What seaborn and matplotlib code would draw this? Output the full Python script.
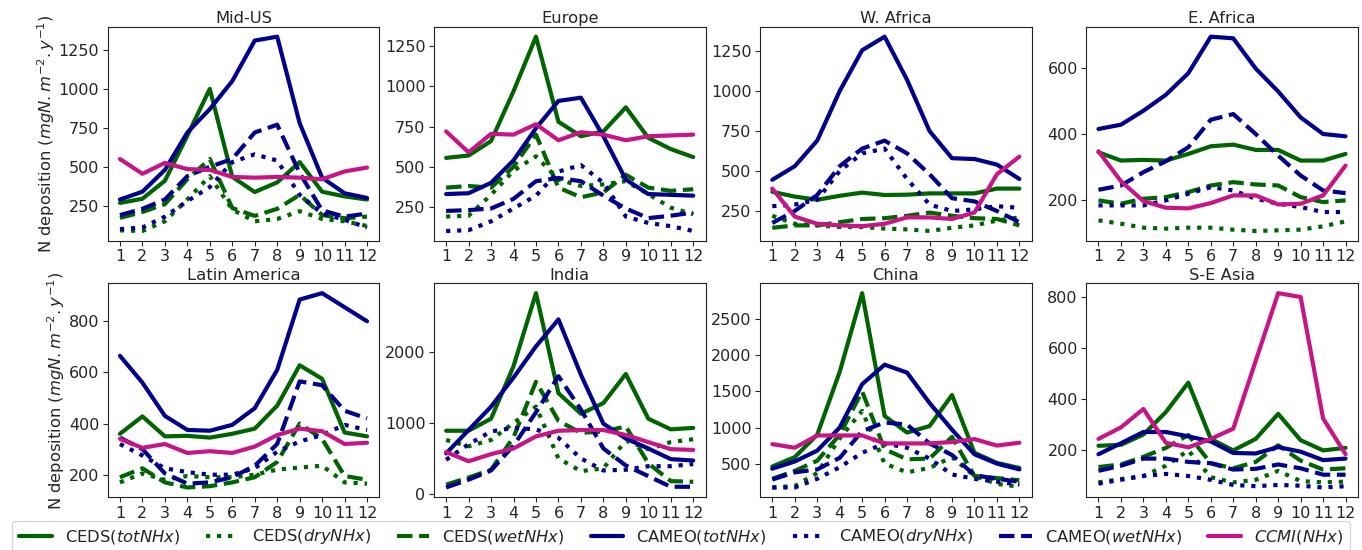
import numpy as np
import pandas as pd
import matplotlib
matplotlib.use("Agg")
import matplotlib.pyplot as plt
from matplotlib.ticker import MultipleLocator
import seaborn as sns

months = list(range(1, 13))

regions = ["Mid-US", "Europe", "W. Africa", "E. Africa",
           "Latin America", "India", "China", "S-E Asia"]

# Monthly NHx deposition (mgN m-2 y-1) per region and source
mid_us = {
    "ceds_tot": [268, 295, 410, 700, 1000, 435, 338, 400, 530, 340, 310, 290],
    "ceds_dry": [92, 88, 150, 290, 440, 225, 150, 165, 215, 165, 150, 120],
    "ceds_wet": [172, 210, 260, 420, 550, 235, 185, 230, 320, 190, 170, 180],
    "cameo_tot": [290, 340, 480, 720, 870, 1050, 1310, 1335, 780, 430, 330, 300],
    "cameo_dry": [100, 110, 180, 280, 370, 530, 580, 540, 320, 200, 160, 110],
    "cameo_wet": [190, 230, 290, 440, 500, 550, 720, 770, 460, 220, 180, 200],
    "ccmi": [550, 455, 525, 485, 480, 435, 430, 435, 430, 420, 470, 495],
}
europe = {
    "ceds_tot": [555, 570, 660, 970, 1310, 780, 690, 720, 870, 680, 610, 560],
    "ceds_dry": [190, 195, 325, 475, 565, 420, 380, 390, 410, 330, 245, 205],
    "ceds_wet": [370, 380, 370, 500, 700, 370, 310, 340, 450, 370, 350, 360],
    "cameo_tot": [330, 335, 400, 540, 740, 910, 930, 690, 420, 330, 325, 320],
    "cameo_dry": [100, 105, 160, 240, 320, 470, 510, 400, 190, 150, 130, 100],
    "cameo_wet": [225, 230, 240, 300, 410, 430, 410, 320, 240, 180, 195, 215],
    "ccmi": [720, 590, 705, 700, 765, 665, 715, 700, 665, 690, 695, 700],
}
w_africa = {
    "ceds_tot": [370, 340, 320, 345, 365, 350, 352, 360, 360, 360, 390, 390],
    "ceds_dry": [220, 170, 160, 150, 150, 140, 135, 125, 145, 160, 190, 210],
    "ceds_wet": [145, 160, 160, 180, 200, 205, 220, 240, 220, 205, 200, 160],
    "cameo_tot": [445, 530, 690, 1000, 1255, 1340, 1070, 750, 580, 575, 540, 450],
    "cameo_dry": [280, 290, 320, 500, 610, 640, 450, 290, 250, 260, 280, 270],
    "cameo_wet": [175, 250, 350, 530, 640, 690, 610, 480, 330, 310, 250, 180],
    "ccmi": [390, 215, 170, 160, 155, 170, 210, 210, 200, 240, 480, 590],
}
e_africa = {
    "ceds_tot": [345, 320, 322, 320, 340, 363, 368, 352, 352, 320, 320, 340],
    "ceds_dry": [140, 130, 118, 115, 118, 118, 112, 108, 110, 112, 122, 137],
    "ceds_wet": [200, 190, 205, 210, 225, 245, 255, 248, 245, 210, 195, 200],
    "cameo_tot": [415, 428, 470, 518, 583, 693, 688, 597, 528, 450, 400, 393],
    "cameo_dry": [185, 185, 185, 200, 220, 240, 230, 205, 190, 180, 165, 165],
    "cameo_wet": [232, 245, 285, 318, 360, 443, 460, 400, 335, 275, 230, 222],
    "ccmi": [348, 258, 198, 178, 176, 192, 215, 215, 188, 190, 215, 305],
}
latin_america = {
    "ceds_tot": [360, 428, 350, 352, 345, 360, 380, 470, 628, 575, 365, 350],
    "ceds_dry": [170, 205, 180, 195, 190, 190, 200, 220, 228, 235, 170, 165],
    "ceds_wet": [190, 225, 170, 150, 155, 170, 190, 250, 400, 340, 195, 180],
    "cameo_tot": [665, 560, 430, 375, 372, 395, 460, 610, 885, 910, 855, 800],
    "cameo_dry": [320, 275, 225, 210, 200, 200, 225, 290, 330, 355, 395, 375],
    "cameo_wet": [345, 300, 205, 165, 170, 190, 235, 320, 565, 550, 450, 420],
    "ccmi": [340, 305, 320, 285, 292, 285, 310, 355, 380, 370, 320, 325],
}
india = {
    "ceds_tot": [890, 890, 1060, 1800, 2830, 1420, 1130, 1280, 1690, 1060, 910, 930],
    "ceds_dry": [760, 670, 760, 1000, 1230, 500, 320, 360, 750, 630, 730, 770],
    "ceds_wet": [130, 230, 340, 800, 1580, 1030, 860, 880, 950, 430, 180, 170],
    "cameo_tot": [570, 900, 1230, 1640, 2080, 2460, 1680, 990, 780, 640, 490, 470],
    "cameo_dry": [480, 700, 880, 930, 910, 790, 500, 330, 340, 390, 390, 420],
    "cameo_wet": [90, 200, 330, 680, 1150, 1660, 1190, 640, 400, 250, 100, 100],
    "ccmi": [590, 460, 560, 640, 810, 890, 900, 900, 830, 730, 630, 620],
}
china = {
    "ceds_tot": [460, 590, 900, 1770, 2860, 1160, 930, 1020, 1450, 650, 510, 440],
    "ceds_dry": [170, 190, 370, 850, 1230, 500, 380, 440, 590, 330, 220, 180],
    "ceds_wet": [290, 400, 540, 900, 1500, 700, 560, 570, 870, 330, 300, 270],
    "cameo_tot": [430, 530, 680, 1000, 1600, 1870, 1760, 1340, 970, 630, 500, 420],
    "cameo_dry": [170, 170, 290, 450, 650, 780, 720, 570, 350, 290, 250, 210],
    "cameo_wet": [280, 380, 420, 580, 950, 1070, 1040, 780, 620, 340, 290, 250],
    "ccmi": [770, 720, 890, 890, 890, 780, 780, 780, 800, 840, 750, 790],
}
se_asia = {
    "ceds_tot": [218, 222, 262, 350, 465, 245, 200, 245, 343, 240, 200, 210],
    "ceds_dry": [75, 88, 100, 140, 200, 95, 75, 85, 120, 80, 75, 78],
    "ceds_wet": [135, 145, 175, 210, 260, 150, 130, 155, 220, 160, 125, 130],
    "cameo_tot": [185, 228, 272, 272, 255, 235, 190, 188, 213, 195, 162, 168],
    "cameo_dry": [70, 85, 100, 108, 100, 85, 65, 60, 65, 62, 55, 60],
    "cameo_wet": [120, 140, 168, 168, 155, 150, 125, 128, 145, 130, 105, 105],
    "ccmi": [245, 290, 362, 230, 212, 245, 285, 550, 815, 800, 325, 185],
}

region_data = [mid_us, europe, w_africa, e_africa,
               latin_america, india, china, se_asia]
tick_steps = [250, 250, 250, 200, 200, 1000, 500, 200]

series_keys = ["ceds_tot", "ceds_dry", "ceds_wet",
               "cameo_tot", "cameo_dry", "cameo_wet", "ccmi"]
series_labels = ["CEDS($totNHx$)", "CEDS($dryNHx$)", "CEDS($wetNHx$)",
                 "CAMEO($totNHx$)", "CAMEO($dryNHx$)", "CAMEO($wetNHx$)",
                 "$CCMI$($NHx$)"]

GREEN, BLUE, PINK = "#006400", "#00008B", "#C71585"
series_colors = [GREEN, GREEN, GREEN, BLUE, BLUE, BLUE, PINK]
series_styles = ["-", ":", "--", "-", ":", "--", "-"]

FS = 11.8
TICK_FS = 11.5

sns.set_style("ticks")
plt.rcParams["font.family"] = ["DejaVu Sans"]
plt.rcParams["font.size"] = FS
plt.rcParams["axes.edgecolor"] = "#222222"

fig, axes = plt.subplots(2, 4, figsize=(13.62, 5.5), dpi=100)
fig.subplots_adjust(left=0.079, right=0.997, top=0.951, bottom=0.096,
                    wspace=0.2, hspace=0.2)

for ax, name, data, step in zip(axes.flat, regions, region_data, tick_steps):
    for key, label, color, ls in zip(series_keys, series_labels,
                                     series_colors, series_styles):
        df = pd.DataFrame({"month": months, "value": data[key]})
        sns.lineplot(data=df, x="month", y="value", color=color,
                     linestyle=ls, linewidth=3, label=label, ax=ax,
                     legend=False)
    ax.set_title(name, fontsize=FS, pad=2.5)
    ax.set_xticks(months)
    ax.yaxis.set_major_locator(MultipleLocator(step))
    ax.set_xlabel("")
    ax.set_ylabel("")
    ax.tick_params(labelsize=TICK_FS, length=3.5, pad=2.5)

for ax in axes[:, 0]:
    ax.set_ylabel(r"N deposition ($mgN.m^{-2}.y^{-1}$)", fontsize=FS,
                  labelpad=1.5)

handles, labels = axes[0, 0].get_legend_handles_labels()
fig.legend(handles, labels, loc="lower left", ncol=7, mode="expand",
           bbox_to_anchor=(0.003, -0.02, 0.994, 0.06), fontsize=FS,
           frameon=True, handlelength=2.0, borderpad=0.4)

fig.savefig("out.png", dpi=100)
